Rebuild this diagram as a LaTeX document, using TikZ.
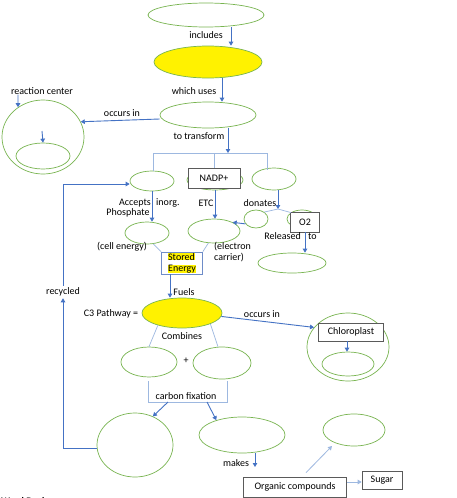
\documentclass[tikz,border=0pt]{standalone}
\usepackage{fontspec}
\setmainfont{Carlito}
\usetikzlibrary{shapes.geometric,arrows.meta,calc}
\definecolor{egreen}{RGB}{120,180,80}
\definecolor{ablue}{RGB}{68,114,196}
\definecolor{lblue}{RGB}{157,184,224}
\definecolor{boxgray}{RGB}{90,90,90}
\definecolor{sebord}{RGB}{110,140,200}
\begin{document}
\begin{tikzpicture}[x=1pt,y=-1pt,
 ell/.style={ellipse,draw=egreen,line width=0.7pt,inner sep=0pt},
 yell/.style={ell,fill=yellow},
 box/.style={draw=boxgray,fill=white,line width=0.7pt,inner sep=0pt,font=\fontsize{10}{11}\selectfont},
 txt/.style={inner sep=0pt,font=\fontsize{10}{11}\selectfont},
 arr/.style={draw=ablue,line width=0.9pt,-{Triangle[length=4pt,width=4.5pt]}},
 larr/.style={draw=lblue,line width=0.8pt,-{Triangle[length=4pt,width=4.5pt]}},
 lite/.style={draw=lblue,line width=0.7pt}]
\useasboundingbox (0,0) rectangle (457,498);
\fill[white] (0,0) rectangle (457,498);
% ellipses
\node[ell,minimum width=116pt,minimum height=24pt] (top) at (206,15) {};
\node[yell,minimum width=108pt,minimum height=32pt] (yel) at (208,62) {};
\node[ell,minimum width=96pt,minimum height=26pt] (tr) at (208,115) {};
\node[ell,minimum width=82pt,minimum height=74pt] (big) at (43,137) {};
\node[ell,minimum width=54pt,minimum height=26pt] (in) at (43,156) {};
\node[ell,minimum width=44pt,minimum height=20pt] (lel) at (152,181) {};
\node[ell,minimum width=56pt,minimum height=20pt] (mel) at (215,180) {};
\node[ell,minimum width=44pt,minimum height=22pt] (rel) at (274,179) {};
\node[ell,minimum width=24pt,minimum height=18pt] (sel) at (256,219) {};
\node[ell,minimum width=30pt,minimum height=18pt] (hel) at (302,219) {};
\node[ell,minimum width=44pt,minimum height=22pt] (cel) at (147,233) {};
\node[ell,minimum width=52pt,minimum height=24pt] (ecl) at (214,231) {};
\node[ell,minimum width=68pt,minimum height=20pt] (bel) at (292,263) {};
\node[yell,minimum width=80pt,minimum height=30pt] (c3) at (182,313) {};
\node[ell,minimum width=82pt,minimum height=68pt] (chc) at (348,347) {};
\node[ell,minimum width=52pt,minimum height=24pt] (chi) at (348,364) {};
\node[ell,minimum width=56pt,minimum height=30pt] (pl) at (149,362) {};
\node[ell,minimum width=58pt,minimum height=32pt] (pr) at (222,363) {};
\node[ell,minimum width=76pt,minimum height=64pt] (bl) at (135,445) {};
\node[ell,minimum width=86pt,minimum height=36pt] (mk) at (242,435) {};
\node[ell,minimum width=62pt,minimum height=32pt] (re) at (354,430) {};
% boxes
\node[box,minimum width=52pt,minimum height=20pt] (nadp) at (214,178) {NADP+};
\node[box,minimum width=29pt,minimum height=20pt] (o2) at (305,222) {O2};
\node[box,draw=sebord,minimum width=41pt,minimum height=22pt,align=left] (se) at (182,263)
  {{\setlength\fboxsep{0pt}\colorbox{yellow}{Stored}}\\{\setlength\fboxsep{0pt}\colorbox{yellow}{Energy}}};
\node[box,minimum width=65pt,minimum height=18pt] (chb) at (351,332) {Chloroplast};
\node[box,minimum width=103pt,minimum height=20pt] (oc) at (295,487) {Organic compounds};
\node[box,minimum width=40pt,minimum height=18pt] (sg) at (382,480) {Sugar};
% texts
\node[txt] (t1) at (206,35) {includes};
\node[txt] (t2) at (194,91) {which uses};
\node[txt] (rcl) at (42,91) {reaction center};
\node[txt] (t3) at (122,113) {occurs in};
\node[txt] (t4) at (199,136) {to transform};
\node[txt,anchor=east] (t5) at (151,203) {Accepts};
\node[txt,anchor=west] (t6) at (156,203) {inorg.};
\node[txt] (t7) at (128,213) {Phosphate};
\node[txt] (t8) at (206,203) {ETC};
\node[txt] (t9) at (260,203) {donates};
\node[txt,anchor=east] (t10) at (301,236) {Released};
\node[txt,anchor=west] (t11) at (308,236) {to};
\node[txt] (t12) at (122,247) {(cell energy)};
\node[txt,anchor=west,align=left] (t13) at (214,252) {(electron\\carrier)};
\node[txt,outer sep=2pt] (rcy) at (63,292) {recycled};
\node[txt] (t14) at (184,292) {Fuels};
\node[txt] (t15) at (111,314) {C3 Pathway =};
\node[txt] (t16) at (262,314) {occurs in};
\node[txt] (t17) at (182,336) {Combines};
\node[txt] (t18) at (186,361) {+};
\node[txt] (t19) at (186,396) {carbon fixation};
\node[txt] (t20) at (236,463) {makes};
\node[txt,font=\bfseries\fontsize{10}{11}\selectfont,anchor=north west] (wb) at (1,497) {Word Bank};
% coordinates
\coordinate (bkl) at (153,153);
\coordinate (bkr) at (267,153);
\coordinate (trx) at ([xshift=20pt]tr.south);
\coordinate (dn) at (278,209);
\coordinate (ia) at (42,131);
\coordinate (cf1) at (148,381);
\coordinate (cfl) at (148,402);
\coordinate (cfr) at (227,402);
\coordinate (cf2) at (227,381);
\coordinate (a1) at (168,402);
\coordinate (a2) at (207,402);
\coordinate (mkend) at (255,467);
\coordinate (mks) at (255,453);
% connectors
\draw[arr] ([xshift=25pt]top.south) -- ([xshift=23pt]yel.north);
\draw[arr] ([xshift=14pt]yel.south) -- ([xshift=14pt]tr.north);
\draw[arr] ([yshift=-4pt]tr.west) -- (big.22);
\draw[arr] ([xshift=-24pt]rcl.south) -- (big.130);
\draw[arr] (ia) -- (in.north);
\draw[arr] (trx) -- (trx |- bkl);
\draw[lite] (lel.north -| bkl) -- (bkl) -- (bkr) -- ([yshift=-2pt]rel.north -| bkr);
\draw[lite] (nadp.north |- bkl) -- (nadp.north);
\draw[arr] (lel.south) -- (lel.south |- cel.north);
\draw[arr] (mel.south) -- (mel.south |- ecl.north);
\draw[arr] (rel.south -| dn) -- (dn);
\draw[lite] (dn) -- (sel.40);
\draw[lite] (dn) -- (hel.150);
\draw[arr] (sel.205) -- (ecl.25);
\draw[arr] (o2.south) -- (o2.south |- bel.north);
\draw[lite] (cel.-60) -- (se.north west);
\draw[lite] (ecl.-115) -- (se.north east);
\draw[arr] ([xshift=-12pt]se.south) -- ([xshift=-12pt]se.south |- c3.north);
\draw[arr] (c3.-5) -- (chc.150);
\draw[arr] ([xshift=-4pt]chb.south) -- ([xshift=-4pt]chb.south |- chi.north);
\draw[lite] (c3.207) -- (pl.north);
\draw[lite] (c3.-21) -- ([xshift=-4pt]pr.north);
\draw[lite] (cf1) -- (cfl) -- (cfr) -- (cf2);
\draw[arr] (a1) -- (bl.58);
\draw[arr] (a2) -- (mk.150);
\draw[arr] ([yshift=-3pt]bl.west) -| (rcy.south);
\draw[arr] (rcy.north) |- ([yshift=-3pt]lel.west);
\draw[arr] (mks) -- (mkend);
\draw[larr] ([xshift=11pt,yshift=4pt]oc.north) -- ([xshift=-22pt,yshift=-16pt]re.center);
\draw[larr] ([yshift=5pt]oc.east) -- ([yshift=-2pt]sg.west);
\end{tikzpicture}
\end{document}
